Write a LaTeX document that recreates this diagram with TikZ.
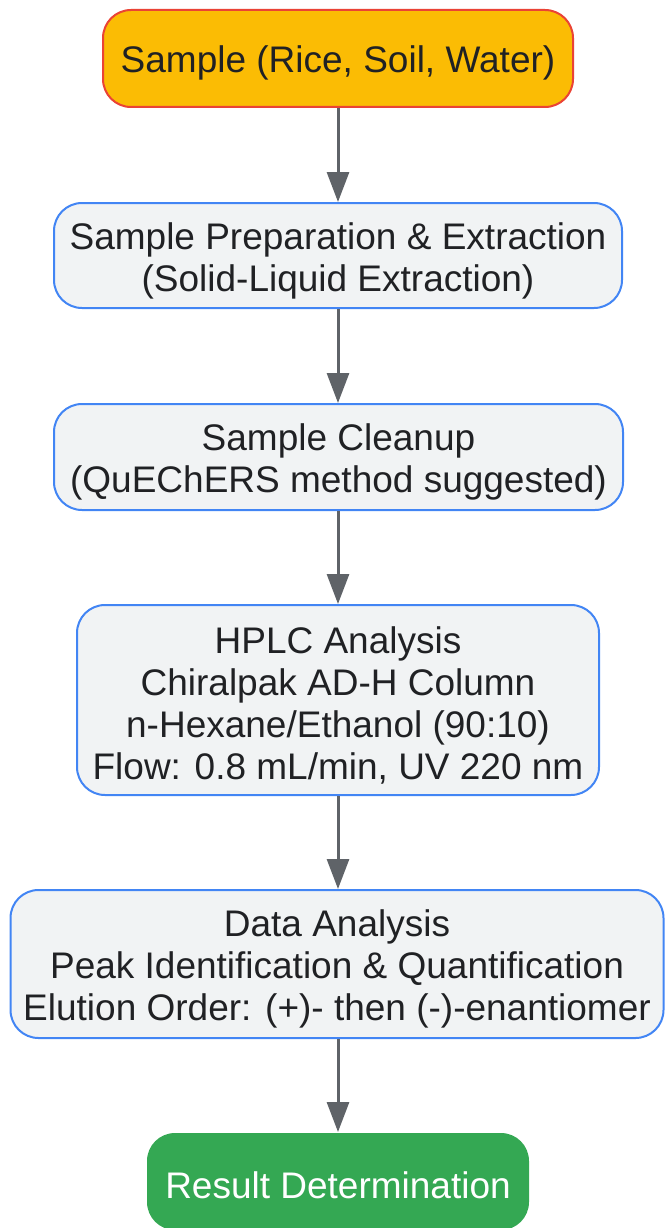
\documentclass[tikz,border=0pt]{standalone}
\usepackage{fontspec}
\setmainfont{Liberation Sans}
\usetikzlibrary{arrows.meta}
\definecolor{ybox}{HTML}{FBBC04}
\definecolor{rline}{HTML}{EA4335}
\definecolor{bline}{HTML}{4285F4}
\definecolor{gfill}{HTML}{F1F3F4}
\definecolor{grn}{HTML}{34A853}
\definecolor{txt}{HTML}{202124}
\definecolor{arr}{HTML}{5F6368}
\tikzset{
  box/.style={rectangle, rounded corners=28pt, line width=2pt, inner sep=0pt},
  procbox/.style={box, draw=bline, fill=gfill},
  boxtext/.style={align=center, text=txt, font=\fontsize{37}{42}\selectfont, inner sep=0pt},
  flowarrow/.style={draw=arr, line width=3pt, -{Triangle[width=22pt,length=30pt]}}
}
\begin{document}
\begin{tikzpicture}[x=1pt,y=-1pt]
\useasboundingbox (0,0) rectangle (664,1228);
\node[box, draw=rline, fill=ybox, minimum width=470pt, minimum height=97pt] (s) at (338,58.5) {};
\node[procbox, minimum width=568pt, minimum height=105pt] (p) at (338,255.5) {};
\node[procbox, minimum width=569pt, minimum height=106pt] (c) at (338.5,457) {};
\node[procbox, minimum width=522pt, minimum height=190pt] (h) at (338,700) {};
\node[procbox, minimum width=653pt, minimum height=148pt] (d) at (337,964) {};
\node[box, fill=grn, minimum width=382pt, minimum height=97pt] (r) at (338,1181.5) {};
\node[boxtext] (st) at ([yshift=-4.5pt]s.center) {Sample (Rice, Soil, Water)};
\node[boxtext] (pt) at ([yshift=-5pt]p.center) {Sample Preparation \& Extraction\\(Solid-Liquid Extraction)};
\node[boxtext] (ct) at ([yshift=-5pt]c.center) {Sample Cleanup\\(QuEChERS method suggested)};
\node[boxtext] (ht) at ([yshift=-5pt]h.center) {HPLC Analysis\\Chiralpak AD-H Column\\n-Hexane/Ethanol (90:10)\\Flow: 0.8 mL/min, UV 220 nm};
\node[boxtext] (dt) at ([yshift=-5pt]d.center) {Data Analysis\\Peak Identification \& Quantification\\Elution Order: (+)- then (-)-enantiomer};
\node[boxtext, text=white] (rt) at ([yshift=-4pt]r.center) {Result Determination};
\draw[flowarrow] (s.south) -- (p.north);
\draw[flowarrow] (p.south) -- (p.south |- c.north);
\draw[flowarrow] (p.south |- c.south) -- (h.north);
\draw[flowarrow] (h.south) -- (h.south |- d.north);
\draw[flowarrow] (h.south |- d.south) -- (r.north);
\end{tikzpicture}
\end{document}
